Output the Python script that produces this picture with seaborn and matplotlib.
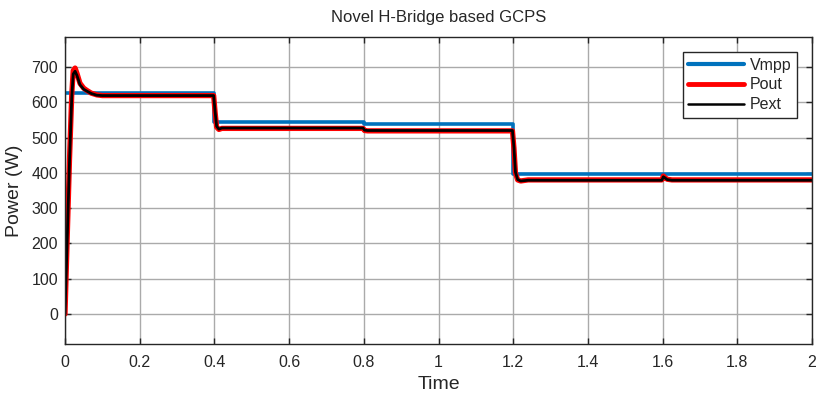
import matplotlib
matplotlib.use("Agg")
import matplotlib.pyplot as plt
import seaborn as sns
import pandas as pd

# ---- data ----
t_vmpp = [0.0, 0.4, 0.4, 0.8, 0.8, 1.2, 1.2, 2.0]
vmpp = [625, 625, 543, 543, 538, 538, 397, 397]

t_pout = [0.0, 0.006, 0.012, 0.018, 0.022, 0.027, 0.032, 0.04, 0.05, 0.058, 0.07, 0.085, 0.1,
          0.398, 0.402, 0.406, 0.412, 0.42, 0.798, 0.802, 0.81,
          1.198, 1.202, 1.206, 1.212, 1.22, 1.24, 1.598, 1.602, 1.606, 1.612, 1.625, 2.0]
pout = [0, 220, 436, 620, 690, 697, 682, 654, 640, 634, 626, 621, 619,
        619, 570, 530, 523, 526, 526, 520, 519,
        519, 470, 400, 380, 377, 380, 380, 391, 387, 382, 380, 380]

t_pext = [0.0, 0.006, 0.012, 0.018, 0.022, 0.027, 0.032, 0.04, 0.05, 0.058, 0.07, 0.085, 0.1,
          0.398, 0.402, 0.406, 0.412, 0.42, 0.798, 0.802, 0.81,
          1.198, 1.202, 1.206, 1.212, 1.22, 1.24, 1.598, 1.602, 1.606, 1.612, 1.625, 2.0]
pext = [0, 215, 430, 612, 680, 688, 676, 650, 637, 632, 625, 620, 619,
        619, 572, 532, 524, 527, 527, 521, 520,
        520, 472, 402, 381, 377, 379, 379, 389, 386, 381, 379, 379]

x_ticks = [0, 0.2, 0.4, 0.6, 0.8, 1, 1.2, 1.4, 1.6, 1.8, 2]
x_tick_labels = ["0", "0.2", "0.4", "0.6", "0.8", "1", "1.2", "1.4", "1.6", "1.8", "2"]
y_ticks = [0, 100, 200, 300, 400, 500, 600, 700]

df_v = pd.DataFrame({"Time": t_vmpp, "Power": vmpp})
df_o = pd.DataFrame({"Time": t_pout, "Power": pout})
df_e = pd.DataFrame({"Time": t_pext, "Power": pext})

sns.set_theme(style="white")
plt.rcParams["font.family"] = ["Liberation Sans", "DejaVu Sans"]

fig = plt.figure(figsize=(8.19, 3.97), dpi=100)
ax = fig.add_axes([65 / 819, 53 / 397, (812 - 65) / 819, (344 - 37) / 397])

sns.lineplot(data=df_v, x="Time", y="Power", ax=ax, color="#0072BD", linewidth=2.6,
             estimator=None, sort=False, label="Vmpp")
sns.lineplot(data=df_o, x="Time", y="Power", ax=ax, color="#FF0000", linewidth=3.8,
             estimator=None, sort=False, label="Pout")
sns.lineplot(data=df_e, x="Time", y="Power", ax=ax, color="#000000", linewidth=2.0,
             estimator=None, sort=False, label="Pext")

ax.set_xlim(0, 2)
ax.set_ylim(-85, 785)
ax.set_xticks(x_ticks)
ax.set_xticklabels(x_tick_labels)
ax.set_yticks(y_ticks)
ax.grid(True, color="#aaaaaa", linewidth=1.0)
ax.tick_params(direction="in", length=4, width=1, colors="#262626", labelsize=11.5,
               top=True, right=True, bottom=True, left=True, labelcolor="#262626")
ax.tick_params(axis="x", pad=8)
ax.tick_params(axis="y", pad=5)
for s in ax.spines.values():
    s.set_color("#262626")
    s.set_linewidth(1.0)

ax.set_xlabel("Time", fontsize=14, color="#262626", labelpad=4)
ax.set_ylabel("Power (W)", fontsize=14, color="#262626", labelpad=6)
ax.set_title("Novel H-Bridge based GCPS", fontsize=12, color="#262626", pad=11)

leg = ax.legend(loc="upper right", bbox_to_anchor=(0.980, 0.951), borderaxespad=0,
                fontsize=11.5, frameon=True, fancybox=False, edgecolor="#262626",
                framealpha=1, handlelength=3.5, handletextpad=0.35, borderpad=0.35,
                labelspacing=0.3)
leg.get_frame().set_linewidth(1.0)
leg.get_lines()[0].set_linewidth(3)
leg.get_lines()[1].set_linewidth(3.5)
leg.get_lines()[2].set_linewidth(1.8)

fig.savefig("out.png", dpi=100)
